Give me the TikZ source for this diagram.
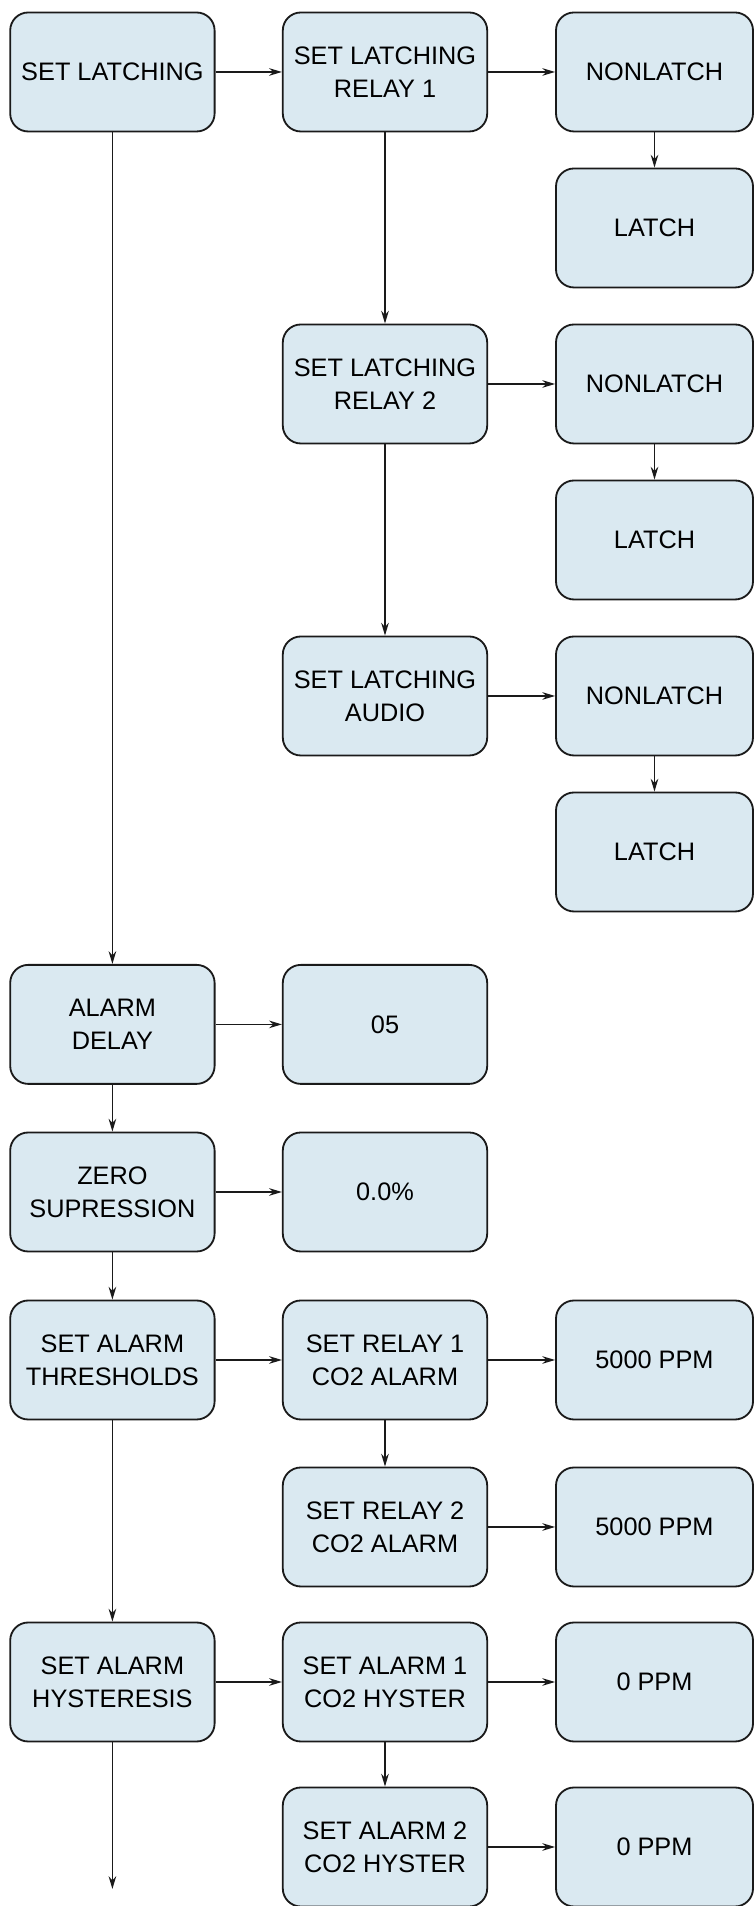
\documentclass[tikz,border=0pt]{standalone}
\usepackage{fontspec}
\setmainfont{Liberation Sans}
\usetikzlibrary{arrows.meta,positioning}
\definecolor{MenuLine}{HTML}{1A1A1A}
\definecolor{MenuBack}{HTML}{DAE9F1}
\tikzset{>={Stealth[length=3.2mm,width=1.9mm]},menu/.style={draw=MenuLine,fill=MenuBack,
 line width=1.3pt,rounded corners=4.5mm,minimum width=51.1mm,minimum height=29.75mm,
 inner sep=0pt,align=center,font=\fontsize{18}{23.6}\selectfont},
 value/.style={menu,minimum width=49.25mm},link/.style={draw=MenuLine,line width=1pt,->}}

\begin{document}
\begin{tikzpicture}[x=10mm,y=10mm]
\useasboundingbox (0,0) rectangle (18.85,47.65);
% Latching branch: one relay/audio menu per row, each with two choices.
\node[menu] (latch) at (2.81,45.85){SET LATCHING};
\foreach \y/\id/\txt in {45.85/1/RELAY 1,38.05/2/RELAY 2,30.25/3/AUDIO}{
 \node[menu] (sl\id) at (9.625,\y){SET LATCHING\\\txt};
 \node[value] (nl\id) at (16.3625,\y){NONLATCH};
 \node[value] (la\id) at (16.3625,\y-3.9){LATCH};
 \draw[link] (sl\id)--(nl\id);
 \draw[link] (nl\id)--(la\id);
}
\draw[link] (latch)--(sl1);
\draw[link] (sl1)--(sl2);
\draw[link] (sl2)--(sl3);
\node[menu] (delay) at (2.81,22.04){ALARM\\DELAY};
\node[menu] (delayval) at (9.625,22.04){05};
\node[menu] (zero) at (2.81,17.85){ZERO\\SUPRESSION};
\node[menu] (zeroval) at (9.625,17.85){0.0\%};
\node[menu] (thresh) at (2.81,13.65){SET ALARM\\THRESHOLDS};
\node[menu] (thr1) at (9.625,13.65){SET RELAY 1\\CO2 ALARM};
\node[value] (thr1val) at (16.3625,13.65){5000 PPM};
\node[menu] (thr2) at (9.625,9.475){SET RELAY 2\\CO2 ALARM};
\node[value] (thr2val) at (16.3625,9.475){5000 PPM};
\node[menu] (hyst) at (2.81,5.6){SET ALARM\\HYSTERESIS};
\node[menu] (hys1) at (9.625,5.6){SET ALARM 1\\CO2 HYSTER};
\node[value] (hys1val) at (16.3625,5.6){0 PPM};
\node[menu] (hys2) at (9.625,1.475){SET ALARM 2\\CO2 HYSTER};
\node[value] (hys2val) at (16.3625,1.475){0 PPM};
\coordinate (more) at (2.81,0.425);
\draw[link] (latch)--(delay);
\draw[link] (delay)--(delayval);
\draw[link] (delay)--(zero);
\draw[link] (zero)--(zeroval);
\draw[link] (zero)--(thresh);
\draw[link] (thresh)--(thr1);
\draw[link] (thr1)--(thr1val);
\draw[link] (thr1)--(thr2);
\draw[link] (thr2)--(thr2val);
\draw[link] (thresh)--(hyst);
\draw[link] (hyst)--(hys1);
\draw[link] (hys1)--(hys1val);
\draw[link] (hys1)--(hys2);
\draw[link] (hys2)--(hys2val);
\draw[link] (hyst)--(more);
\end{tikzpicture}
\end{document}
